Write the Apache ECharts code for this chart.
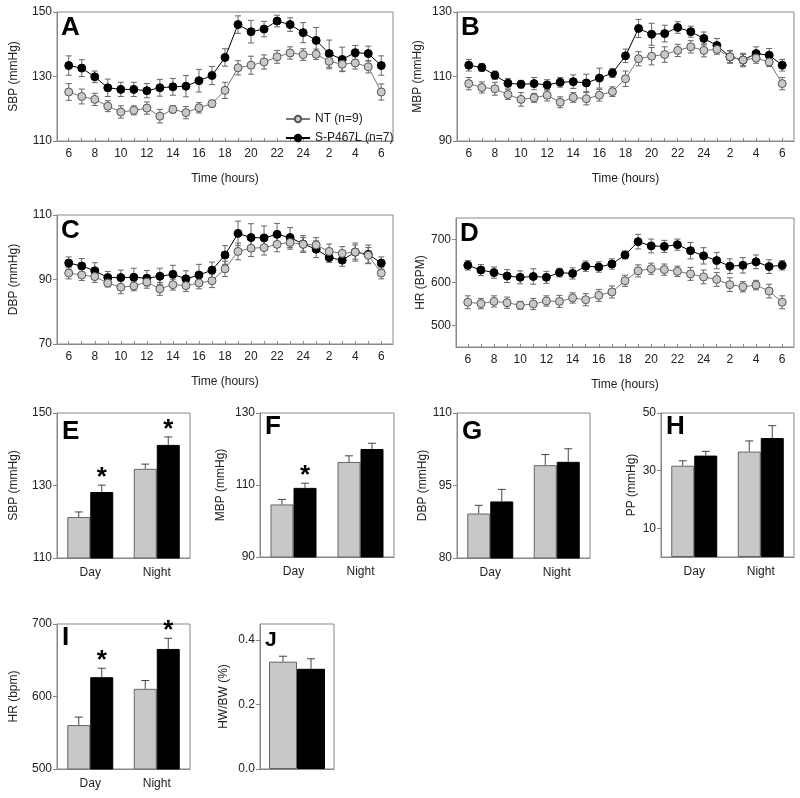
<!DOCTYPE html>
<html><head><meta charset="utf-8">
<script src="https://cdn.jsdelivr.net/npm/echarts@6/dist/echarts.min.js"></script>
<style>html,body{margin:0;padding:0;background:#fff}#c{width:800px;height:798px}</style>
</head><body><div id="c"></div><script>
// ---------- data ----------
const hours = [6,7,8,9,10,11,12,13,14,15,16,17,18,19,20,21,22,23,24,1,2,3,4,5,6];

const sbpNT    = [125.2,123.8,122.9,120.8,119.0,119.5,120.2,117.7,119.8,118.8,120.3,121.6,125.7,132.7,133.5,134.5,136.1,137.3,136.8,136.9,134.7,133.8,134.2,133.0,125.2];
const sbpNTerr = [2.6,2.3,1.9,1.7,1.9,1.4,1.9,2.1,1.1,1.9,1.6,1.0,2.5,2.2,2.8,2.2,2.0,1.9,1.8,1.6,2.3,2.1,1.9,1.9,2.5];
const sbpSP    = [133.4,132.6,129.9,126.5,126.0,126.0,125.6,126.5,126.8,127.0,128.7,130.3,135.9,146.1,143.9,144.7,147.2,146.1,143.6,141.2,137.1,135.3,137.4,137.1,133.4];
const sbpSPerr = [3.0,2.6,1.8,2.7,2.2,2.2,2.2,2.6,2.6,3.3,3.5,2.8,2.7,2.7,3.5,2.4,1.8,2.1,3.1,4.0,4.2,3.8,2.2,2.3,3.0];

const mbpNT    = [107.8,106.6,106.2,104.4,102.9,103.4,104.2,102.0,103.5,103.1,104.2,105.3,109.3,115.5,116.3,116.8,118.1,119.2,118.1,118.4,116.1,115.1,115.7,114.5,107.8];
const mbpNTerr = [1.9,1.7,2.0,1.5,2.1,1.4,1.8,1.7,1.5,1.9,1.8,1.5,2.4,2.2,2.7,2.4,1.9,1.9,2.0,1.5,1.8,1.7,1.6,1.4,1.9];
const mbpSP    = [113.5,112.8,110.4,107.9,107.6,107.8,107.4,108.2,108.4,108.0,109.5,111.1,116.4,124.9,123.1,123.3,125.2,123.9,121.8,119.6,116.1,115.1,117.1,116.6,113.5];
const mbpSPerr = [1.8,1.2,1.3,1.5,1.2,1.9,1.6,1.5,2.1,2.7,3.1,1.4,2.1,2.8,3.4,2.6,1.8,1.7,2.0,2.2,2.0,2.1,2.1,2.1,1.8];

const dbpNT    = [92.0,91.4,90.9,88.9,87.6,88.0,89.2,87.1,88.4,88.1,88.9,89.6,93.3,98.7,99.7,99.9,100.9,101.5,100.9,100.7,98.7,98.1,98.5,97.5,92.0];
const dbpNTerr = [1.8,1.7,1.8,1.2,2.0,1.5,1.9,2.0,1.7,1.8,1.8,2.1,2.4,2.6,2.6,2.3,2.3,2.1,2.1,2.3,2.3,2.1,2.2,2.4,1.8];
const dbpSP    = [95.1,94.2,92.7,90.6,90.6,90.7,90.4,91.0,91.6,90.2,91.4,92.9,97.6,104.3,103.0,102.9,104.0,103.0,101.0,99.4,96.8,96.0,98.5,97.8,95.1];
const dbpSPerr = [1.9,2.3,2.5,1.9,2.3,2.8,2.4,2.5,2.8,2.5,3.3,2.5,2.9,3.8,4.3,3.7,3.4,3.1,2.6,2.6,1.5,1.9,2.8,2.9,1.9];

const hrNT     = [554,551,556,553,547,550,557,556,564,560,570,578,604,627,632,630,626,620,613,607,595,590,594,580,554];
const hrNTerr  = [15,12,13,13,9,13,12,14,12,14,14,14,13,14,13,13,12,15,16,16,16,12,11,16,15];
const hrSP     = [640,629,623,615,612,614,612,623,621,638,636,643,664,695,685,684,688,674,662,651,638,640,648,637,640];
const hrSPerr  = [11,13,13,15,15,18,14,10,13,12,12,12,9,17,16,14,13,19,19,19,17,18,16,16,11];

const barCats = ['Day','Night'];
const eNT = [121.3,134.6], eNTerr = [1.4,1.3], eSP = [128.2,141.2], eSPerr = [1.9,2.2], eSig = [1,1];
const fNT = [104.6,116.4], fNTerr = [1.4,1.7], fSP = [109.2,120.0], fSPerr = [1.3,1.6], fSig = [1,0];
const gNT = [89.2,99.2],   gNTerr = [1.7,2.2], gSP = [91.7,99.9],   gSPerr = [2.5,2.7], gSig = [0,0];
const hNT = [31.7,36.6],   hNTerr = [1.7,3.7], hSP = [35.2,41.3],   hSPerr = [1.5,4.3], hSig = [0,0];
const iNT = [560.6,610.6], iNTerr = [11.0,11.4], iSP = [626.6,665.6], iSPerr = [12.4,14.7], iSig = [1,1];
const jCats = [''];
const jNT = [0.333], jNTerr = [0.017], jSP = [0.311], jSPerr = [0.031], jSig = [0];

const NTname = 'NT (n=9)', SPname = 'S-P467L (n=7)';

// ---------- layout ----------
const FONT = 'Liberation Sans, Arial, sans-serif';
const TXT = '#222', AX = '#888', ERR = '#666';
const grids = [
  {left:57,  top:12,  width:336, height:129},
  {left:457, top:12,  width:337, height:129},
  {left:57,  top:215, width:336, height:129},
  {left:456, top:218, width:338, height:129},
  {left:57,  top:413, width:133, height:145},
  {left:260, top:413, width:134, height:144},
  {left:457, top:413, width:133, height:145},
  {left:661, top:413, width:133, height:144},
  {left:57,  top:624, width:133, height:145},
  {left:260, top:624, width:74,  height:145}
].map(g => Object.assign({show:true, borderColor:AX, borderWidth:1, containLabel:false}, g));

const idx = hours.map((_, i) => i);
const evenIdx = idx.filter(i => i % 2 === 0);

function xLine(g) {
  return {type:'value', gridIndex:g, min:-0.9, max:24.9,
    name:'Time (hours)', nameLocation:'middle', nameGap:32,
    nameTextStyle:{fontSize:12, color:TXT, fontFamily:FONT},
    axisLine:{show:true, onZero:false, lineStyle:{color:AX}},
    axisTick:{show:true, inside:true, length:3, customValues:idx, lineStyle:{color:AX}},
    axisLabel:{customValues:evenIdx, formatter:v => String(hours[Math.round(v)]), fontSize:12, color:TXT, fontFamily:FONT, margin:7},
    splitLine:{show:false}};
}
function xBar(g, cats, showLabel) {
  return {type:'category', gridIndex:g, data:cats,
    axisLine:{show:true, onZero:false, lineStyle:{color:AX}}, axisTick:{show:false},
    axisLabel:{show:showLabel, fontSize:12, color:TXT, fontFamily:FONT, margin:9},
    splitLine:{show:false}};
}
function yAx(g, min, max, vals, name, gap, dec) {
  return {type:'value', gridIndex:g, min, max, name, nameLocation:'middle', nameGap:gap,
    nameTextStyle:{fontSize:12, color:TXT, fontFamily:FONT},
    axisLine:{show:true, onZero:false, lineStyle:{color:AX}},
    axisTick:{show:true, length:4, customValues:vals, lineStyle:{color:AX}},
    axisLabel:{customValues:vals, fontSize:12, color:TXT, fontFamily:FONT, margin:5,
      formatter: v => dec ? v.toFixed(dec) : String(v)},
    splitLine:{show:false}};
}

const xAxis = [xLine(0), xLine(1), xLine(2), xLine(3),
  xBar(4, barCats, true), xBar(5, barCats, true), xBar(6, barCats, true), xBar(7, barCats, true),
  xBar(8, barCats, true), xBar(9, jCats, false)];
const yAxis = [
  yAx(0, 110, 150, [110,130,150], 'SBP (mmHg)', 37),
  yAx(1, 90, 130, [90,110,130], 'MBP (mmHg)', 33),
  yAx(2, 70, 110, [70,90,110], 'DBP (mmHg)', 37),
  yAx(3, 450, 750, [500,600,700], 'HR (BPM)', 29),
  yAx(4, 110, 150, [110,130,150], 'SBP (mmHg)', 37),
  yAx(5, 90, 130, [90,110,130], 'MBP (mmHg)', 33),
  yAx(6, 80, 110, [80,95,110], 'DBP (mmHg)', 28),
  yAx(7, 0, 50, [10,30,50], 'PP (mmHg)', 23),
  yAx(8, 500, 700, [500,600,700], 'HR (bpm)', 37),
  yAx(9, 0, 0.45, [0,0.2,0.4], 'HW/BW (%)', 30, 1)
];

// ---------- series builders ----------
function errLine(g, means, errs) {
  return {type:'custom', xAxisIndex:g, yAxisIndex:g, silent:true, z:1,
    data: means.map((m, i) => [i, m, errs[i]]),
    encode:{x:0, y:1},
    renderItem:(p, api) => {
      const x = api.value(0), m = api.value(1), e = api.value(2);
      const t = api.coord([x, m + e]), b = api.coord([x, m - e]), c = 3;
      const st = {stroke:ERR, lineWidth:1};
      return {type:'group', children:[
        {type:'line', shape:{x1:t[0], y1:t[1], x2:b[0], y2:b[1]}, style:st},
        {type:'line', shape:{x1:t[0]-c, y1:t[1], x2:t[0]+c, y2:t[1]}, style:st},
        {type:'line', shape:{x1:b[0]-c, y1:b[1], x2:b[0]+c, y2:b[1]}, style:st}
      ]};
    }};
}
function lineS(g, name, vals, nt) {
  return {type:'line', name, xAxisIndex:g, yAxisIndex:g, z:3,
    data: vals.map((v, i) => [i, v]),
    symbol:'circle', symbolSize:8, showSymbol:true,
    itemStyle: nt ? {color:'#c8c8c8', borderColor:'#555', borderWidth:1} : {color:'#000', borderColor:'#000', borderWidth:1},
    lineStyle:{color: nt ? '#777' : '#000', width:1}};
}
function barS(g, name, vals, nt, bw) {
  return {type:'bar', name: name + ' bar', xAxisIndex:g, yAxisIndex:g, data: vals,
    barWidth:bw, barGap:'0%', z:2,
    itemStyle: nt ? {color:'#c8c8c8', borderColor:'#666', borderWidth:1} : {color:'#000', borderColor:'#000', borderWidth:1}};
}
function errBar(g, vals, errs, sig, off) {
  return {type:'custom', xAxisIndex:g, yAxisIndex:g, silent:true, z:4,
    data: vals.map((v, i) => [i, v, errs[i], sig[i]]),
    encode:{x:0, y:1},
    renderItem:(p, api) => {
      const x = api.value(0), v = api.value(1), e = api.value(2), s = api.value(3);
      const b = api.coord([x, v]), t = api.coord([x, v + e]);
      const cx = b[0] + off, c = 4;
      const st = {stroke:'#444', lineWidth:1};
      const ch = [
        {type:'line', shape:{x1:cx, y1:b[1], x2:cx, y2:t[1]}, style:st},
        {type:'line', shape:{x1:cx-c, y1:t[1], x2:cx+c, y2:t[1]}, style:st}
      ];
      if (s) ch.push({type:'text', x:cx, y:t[1]-7,
        style:{text:'*', fontSize:26, fontWeight:'bold', fontFamily:FONT, fill:'#000', align:'center', verticalAlign:'middle'}});
      return {type:'group', children:ch};
    }};
}

const series = [];
[[0, sbpNT, sbpNTerr, sbpSP, sbpSPerr], [1, mbpNT, mbpNTerr, mbpSP, mbpSPerr],
 [2, dbpNT, dbpNTerr, dbpSP, dbpSPerr], [3, hrNT, hrNTerr, hrSP, hrSPerr]].forEach(([g, a, ae, b, be]) => {
  series.push(errLine(g, b, be), errLine(g, a, ae), lineS(g, SPname, b, false), lineS(g, NTname, a, true));
});
[[4, eNT, eNTerr, eSP, eSPerr, eSig, 23], [5, fNT, fNTerr, fSP, fSPerr, fSig, 23],
 [6, gNT, gNTerr, gSP, gSPerr, gSig, 23], [7, hNT, hNTerr, hSP, hSPerr, hSig, 23],
 [8, iNT, iNTerr, iSP, iSPerr, iSig, 23], [9, jNT, jNTerr, jSP, jSPerr, jSig, 28]].forEach(([g, a, ae, b, be, sg, bw]) => {
  series.push(barS(g, 'NT', a, true, bw), barS(g, 'SP', b, false, bw),
    errBar(g, a, ae, a.map(() => 0), -bw/2), errBar(g, b, be, sg, bw/2));
});

// panel letters
const letters = [['A',61,15],['B',461,15],['C',61,218],['D',460,221],['E',62,419],['F',265,414],
  ['G',462,419],['H',666,414],['I',62,625],['J',265,630]];
const graphic = letters.map(([t, x, y]) => ({type:'text', left:x, top:y, silent:true,
  style:{text:t, fontSize: t === 'J' ? 21 : 26, fontWeight:'bold', fontFamily:FONT, fill:'#000'}}));

const chart = echarts.init(document.getElementById('c'), null, {renderer:'canvas'});
chart.setOption({
  animation:false,
  backgroundColor:'#fff',
  textStyle:{fontFamily:FONT},
  grid: grids, xAxis, yAxis, series, graphic,
  legend:{data:[NTname, SPname], orient:'vertical', left:280, top:108, padding:5, itemWidth:24, itemHeight:8, itemGap:7,
    textStyle:{fontSize:12, color:TXT, fontFamily:FONT}, selectedMode:false}
});
</script></body></html>
